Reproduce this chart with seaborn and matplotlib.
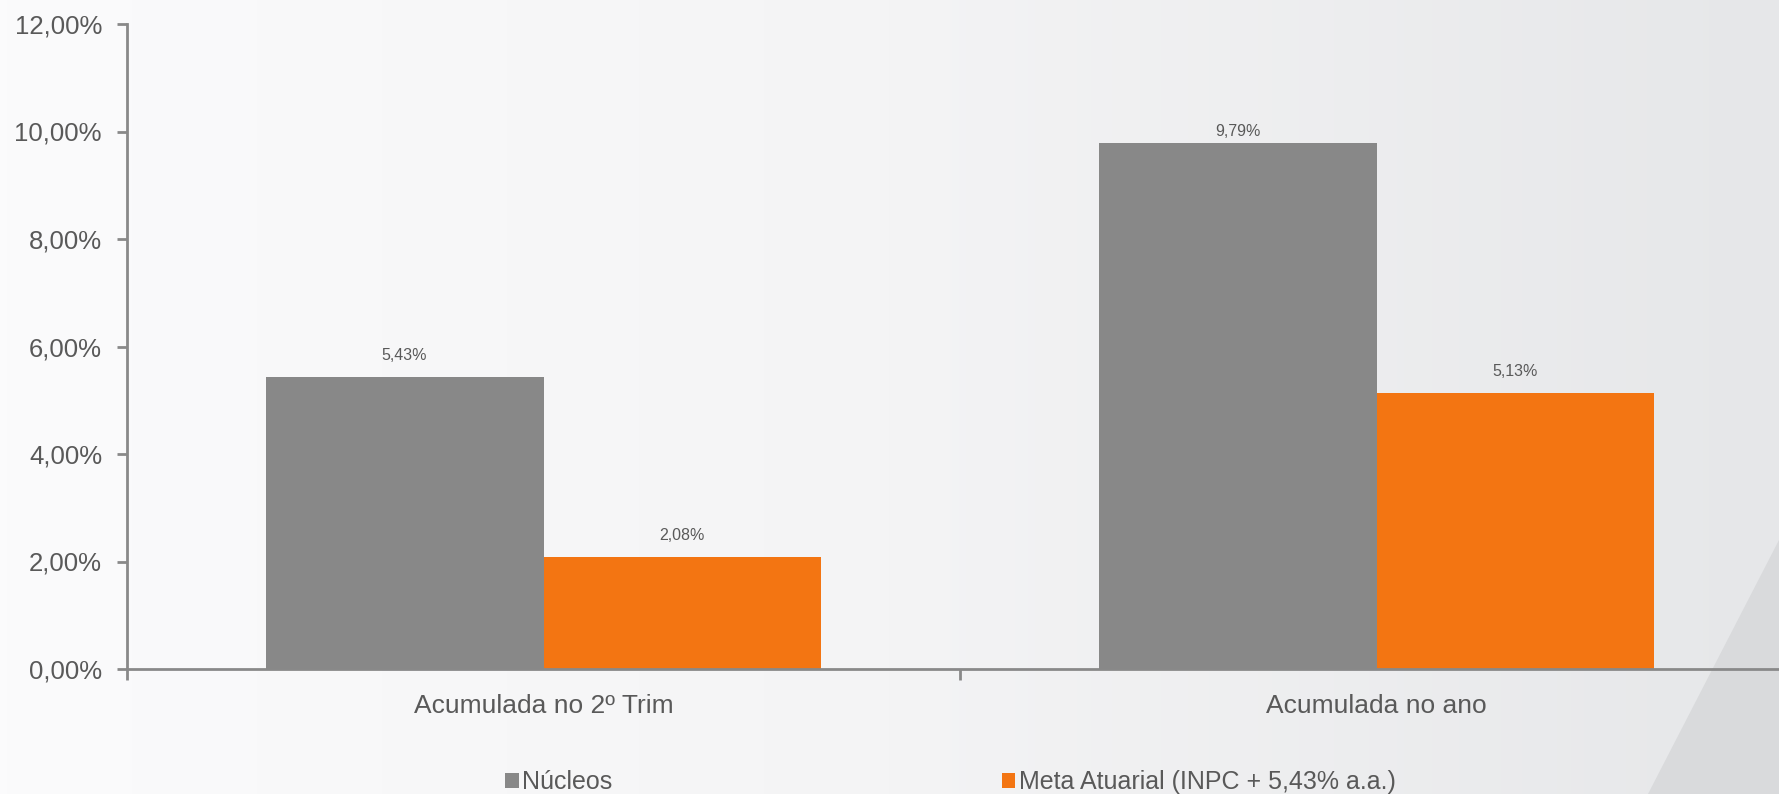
import numpy as np
import pandas as pd
import matplotlib
matplotlib.use("Agg")
import matplotlib.pyplot as plt
from matplotlib.patches import Polygon, Patch
from matplotlib.colors import LinearSegmentedColormap
import seaborn as sns

# ---- data ----
categories = ["Acumulada no 2º Trim", "Acumulada no ano"]
series_names = ["Núcleos", "Meta Atuarial (INPC + 5,43% a.a.)"]
nucleos = [5.43, 9.79]
meta = [2.08, 5.13]
yticks = [0, 2, 4, 6, 8, 10, 12]

df = pd.DataFrame({
    "cat": categories * 2,
    "serie": [series_names[0]] * 2 + [series_names[1]] * 2,
    "valor": nucleos + meta,
})

sns.set_theme(style="white")
plt.rcParams["font.family"] = ["Liberation Sans", "DejaVu Sans"]

W, H, DPI = 1779, 794, 100
fig = plt.figure(figsize=(W / DPI, H / DPI), dpi=DPI)

# background gradient
bg = fig.add_axes([0, 0, 1, 1], zorder=-10)
grad = np.linspace(0, 1, 256)[None, :]
cmap = LinearSegmentedColormap.from_list("bg", ["#fbfbfc", "#f4f4f5", "#e6e7e9"])
bg.imshow(grad, aspect="auto", cmap=cmap, extent=[0, 1, 0, 1], origin="lower")
bg.add_patch(Polygon([[1648 / W, 0], [1.0, 0], [1.0, 1 - 540 / H]],
                     closed=True, facecolor="#d9dadc", edgecolor="none"))
bg.set_xlim(0, 1)
bg.set_ylim(0, 1)
bg.axis("off")

ax = fig.add_axes([127 / W, 1 - 669 / H, (1793 - 127) / W, (669 - 24) / H])
ax.patch.set_alpha(0)

palette = {series_names[0]: "#888888", series_names[1]: "#f37512"}
sns.barplot(data=df, x="cat", y="valor", hue="serie", order=categories,
            hue_order=series_names, palette=palette, width=0.667,
            saturation=1, ax=ax, legend=False, linewidth=0)

ax.set_xlim(-0.5, 1.5)
ax.set_ylim(0, 12)
ax.set_yticks(yticks)
ax.set_yticklabels([f"{v:.2f}%".replace(".", ",") for v in yticks])
ax.set_xlabel("")
ax.set_ylabel("")

# x ticks at category boundaries, labels at centers
ax.set_xticks([-0.5, 0.5, 1.5])
ax.set_xticklabels(["", "", ""])
ax.set_xticks([0, 1], minor=True)
ax.set_xticklabels(categories, minor=True)
ax.tick_params(axis="x", which="minor", bottom=True, length=0, pad=18, labelsize=19,
               labelcolor="#595959")
ax.tick_params(axis="x", which="major", bottom=True, length=8, width=2, color="#898989",
               direction="out")
ax.tick_params(axis="y", length=7, width=2, color="#898989", pad=11, labelsize=18.5,
               labelcolor="#595959", direction="out", left=True)

for s in ["top", "right"]:
    ax.spines[s].set_visible(False)
for s in ["left", "bottom"]:
    ax.spines[s].set_color("#898989")
    ax.spines[s].set_linewidth(2)
ax.grid(False)

# data labels (containers: first = Núcleos, second = Meta)
pad_map = {(0, 0): 10, (0, 1): 3, (1, 0): 10, (1, 1): 10}
for si, cont in enumerate(ax.containers):
    for ci, (p, v) in enumerate(zip(cont, cont.datavalues)):
        ax.annotate(f"{v:.2f}%".replace(".", ","),
                    (p.get_x() + p.get_width() / 2, p.get_height()),
                    xytext=(0, pad_map.get((si, ci), 10)), textcoords="offset points",
                    ha="center", va="bottom", fontsize=11.5, color="#595959")

handles = [Patch(facecolor=palette[n], edgecolor="none") for n in series_names]
fig.legend(handles, series_names, loc="center left",
           bbox_to_anchor=(505 / W, 1 - 782 / H), ncol=2, frameon=False,
           fontsize=18, handlelength=0.55, handleheight=0.55, handletextpad=0.15,
           columnspacing=15.55, borderpad=0, borderaxespad=0, labelcolor="#595959")

fig.savefig("out.png", dpi=DPI)
